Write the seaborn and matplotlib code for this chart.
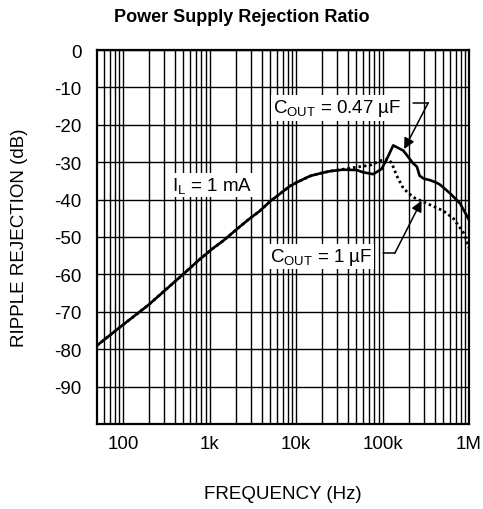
import numpy as np
import pandas as pd
import matplotlib
matplotlib.use("Agg")
import matplotlib.pyplot as plt
import seaborn as sns

# ---------------- data ----------------
freq_047 = [50, 97, 196, 477, 776, 1100, 1440, 2250, 2940, 3830, 5000, 8500,
            10200, 14500, 18900, 24700, 35000, 50000, 59800, 78000, 97600,
            112000, 133000, 174000, 226000, 250000, 268000, 300000, 354000,
            423000, 462000, 603000, 787000, 1000000]
db_047 = [-79.0, -73.7, -68.2, -60.3, -55.9, -53.0, -51.0, -47.2, -45.0, -43.0,
          -40.5, -36.4, -35.4, -33.7, -33.0, -32.4, -32.0, -32.1, -32.7, -33.2,
          -31.8, -29.2, -25.5, -26.9, -30.3, -31.2, -33.6, -34.4, -34.8, -35.5,
          -36.0, -38.3, -41.0, -45.4]

freq_1u = [50, 97, 196, 477, 776, 1100, 1440, 2250, 2940, 3830, 5000, 8500,
           10200, 14500, 18900, 24700, 42000, 71600, 97700, 117000, 128000,
           146000, 174000, 227000, 324000, 504000, 658000, 720000, 860000,
           940000, 1000000]
db_1u = [-79.0, -73.7, -68.2, -60.3, -55.9, -53.0, -51.0, -47.2, -45.0, -43.0,
         -40.5, -36.4, -35.4, -33.7, -33.0, -32.4, -31.6, -30.8, -29.5, -29.2,
         -30.3, -33.6, -37.0, -39.4, -41.0, -43.0, -45.0, -46.3, -48.8, -51.0,
         -53.0]

x_major = [100, 1000, 10000, 100000, 1000000]
x_major_labels = ["100", "1k", "10k", "100k", "1M"]
y_ticks = [0, -10, -20, -30, -40, -50, -60, -70, -80, -90, -100]
y_tick_labels = ["0", "-10", "-20", "-30", "-40", "-50", "-60", "-70", "-80", "-90", ""]

df047 = pd.DataFrame({"freq": freq_047, "db": db_047})
df1u = pd.DataFrame({"freq": freq_1u, "db": db_1u})

# ---------------- style ----------------
sns.set_style("white")
plt.rcParams["font.family"] = ["Liberation Sans", "DejaVu Sans"]
plt.rcParams["mathtext.fontset"] = "custom"
plt.rcParams["mathtext.rm"] = "Liberation Sans"
plt.rcParams["mathtext.it"] = "Liberation Sans:italic"
plt.rcParams["mathtext.bf"] = "Liberation Sans:bold"
for k in ["text.color", "axes.labelcolor", "xtick.color", "ytick.color"]:
    plt.rcParams[k] = "black"

FS = 13.5

fig = plt.figure(figsize=(4.83, 5.10), dpi=100)
ax = fig.add_axes([97 / 483, 1 - 425 / 510, 372 / 483, 374 / 510])

ax.set_xscale("log")
ax.set_xlim(50, 1e6)
ax.set_ylim(-100, 0)

minor = [60, 70, 80, 90]
for dec in [100, 1000, 10000, 100000]:
    minor += [dec * k for k in range(2, 10)]
ax.set_xticks(x_major)
ax.set_xticklabels(x_major_labels)
ax.set_xticks(minor, minor=True)
ax.set_xticklabels([], minor=True)
ax.set_yticks(y_ticks)
ax.set_yticklabels(y_tick_labels)

ax.grid(True, which="both", color="black", linewidth=1.0)
ax.set_axisbelow(True)
ax.tick_params(which="both", length=0)
ax.tick_params(axis="y", pad=11, labelsize=FS, colors="black")
ax.tick_params(axis="x", pad=8, labelsize=FS, colors="black")

for s in ax.spines.values():
    s.set_visible(True)
    s.set_color("black")
    s.set_linewidth(1.6)

# curves
sns.lineplot(data=df1u, x="freq", y="db", ax=ax, color="black",
             linewidth=2.0, linestyle=(0, (0.9, 1.1)), zorder=3)
sns.lineplot(data=df047, x="freq", y="db", ax=ax, color="black",
             linewidth=1.9, zorder=4)

ax.set_xlabel("FREQUENCY (Hz)", fontsize=FS, labelpad=24)
ax.set_ylabel("RIPPLE REJECTION (dB)", fontsize=FS, labelpad=19)

fig.text(0.5, 1 - 17 / 510, "Power Supply Rejection Ratio", ha="center",
         va="center", fontsize=13, fontweight="bold")

box = dict(facecolor="white", edgecolor="none", pad=1.5)
ax.text(368, -37.4, r"I$_{\mathrm{L}}$ = 1 mA", fontsize=FS, ha="left",
        va="baseline", bbox=box, zorder=5)
ax.text(5420, -16.7, r"C$_{\mathrm{OUT}}$ = 0.47 µF", fontsize=FS, ha="left",
        va="baseline", bbox=box, zorder=5)
ax.text(5000, -56.4, r"C$_{\mathrm{OUT}}$ = 1 µF", fontsize=FS, ha="left",
        va="baseline", bbox=box, zorder=5)

# leader lines + arrows
ax.plot([228000, 338000], [-14.1, -14.1], color="black", lw=1.1, zorder=6)
ax.annotate("", xy=(178000, -26.5), xytext=(338000, -14.1),
            arrowprops=dict(arrowstyle="-|>", color="black", lw=1.1,
                            mutation_scale=16, shrinkA=0, shrinkB=0), zorder=6)
ax.plot([101000, 139000], [-54.3, -54.3], color="black", lw=1.1, zorder=6)
ax.annotate("", xy=(283000, -40.3), xytext=(139000, -54.3),
            arrowprops=dict(arrowstyle="-|>", color="black", lw=1.1,
                            mutation_scale=16, shrinkA=0, shrinkB=0), zorder=6)

fig.savefig("out.png", dpi=100)
